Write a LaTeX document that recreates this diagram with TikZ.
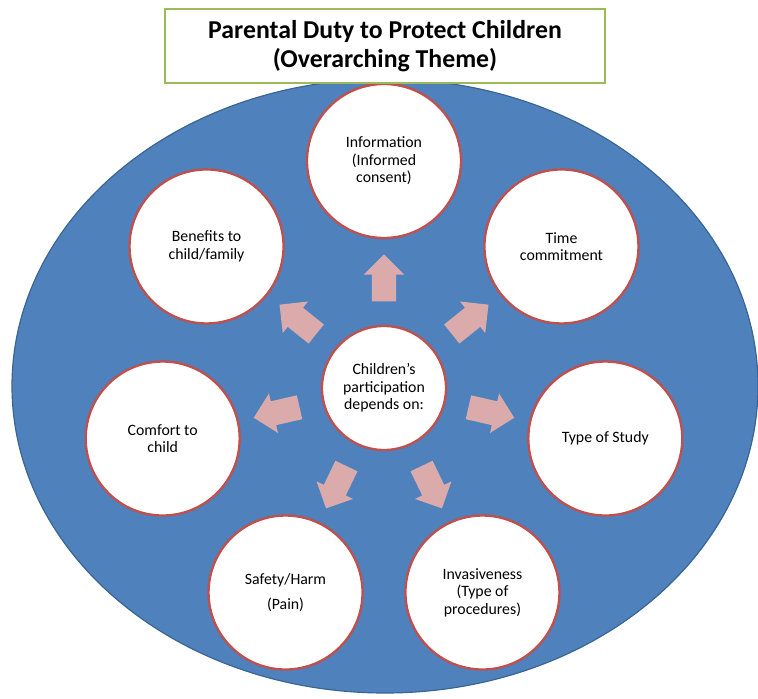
\documentclass[tikz,border=0pt]{standalone}
\usepackage{fontspec}
\setmainfont{Carlito}
\usetikzlibrary{shapes.arrows}
\definecolor{ovalblue}{HTML}{4F81BD}
\definecolor{ovalrim}{HTML}{3A6491}
\definecolor{circred}{HTML}{C0504D}
\definecolor{arrowpink}{HTML}{DBAAAA}
\definecolor{boxgreen}{HTML}{9BBB59}
\tikzset{
    topic/.style={circle, draw=circred, line width=2pt, fill=white,
        minimum size=4.62cm, inner sep=0pt, align=center,
        font=\fontsize{13.5}{15}\selectfont},
    hubnode/.style={topic, minimum size=3.72cm},
    pusharrow/.style={single arrow, fill=arrowpink, inner xsep=0pt,
        inner ysep=0.36cm, minimum height=1.41cm,
        single arrow head extend=0.24cm},
    themebox/.style={draw=boxgreen, line width=2pt, fill=white,
        minimum width=13.2cm, minimum height=2.22cm, align=center,
        font=\fontsize{22}{25}\selectfont\bfseries},
}

\begin{document}
\begin{tikzpicture}[x=0.03cm, y=0.03cm]
	\useasboundingbox (0,0) rectangle (758,698);
	\filldraw[fill=ovalblue, draw=ovalrim, line width=1pt] (385,312) ellipse [x radius=373, y radius=307];
	\node[hubnode] (hub) at (384,310) {Children's\\participation\\depends on:};
	\node[topic] (info) at ([shift={(90:227)}]hub) {Information\\(Informed\\consent)};
	\node[topic] (benefit) at ([shift={(141.43:227)}]hub) {Benefits to\\child/family};
	\node[topic] (comfort) at ([shift={(192.86:227)}]hub) {Comfort to\\child};
	\node[topic] (safety) at ([shift={(244.29:227)}]hub) {Safety/Harm\\[6pt](Pain)};
	\node[topic] (invasive) at ([shift={(295.71:227)}]hub) {Invasiveness\\(Type of\\procedures)};
	\node[topic] (study) at ([shift={(347.14:227)}]hub) {Type of Study};
	\node[topic] (time) at ([shift={(38.57:227)}]hub) {Time\\commitment};
	\foreach \i [evaluate=\i as \a using 90+\i*360/7] in {0,...,6}
		\node[pusharrow, rotate=\a] (push\i) at ([shift={(\a:104)}]hub) {};
	\node[themebox] (theme) at (385,652) {Parental Duty to Protect Children\\(Overarching Theme)};
\end{tikzpicture}
\end{document}
